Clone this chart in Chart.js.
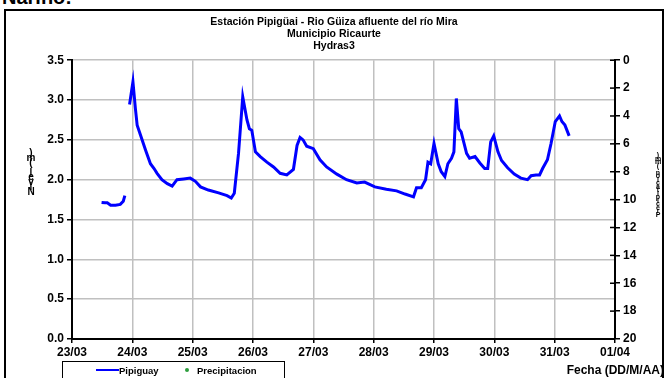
<!DOCTYPE html>
<html>
<head>
<meta charset="utf-8">
<script src="https://cdn.jsdelivr.net/npm/chart.js@4.4.0/dist/chart.umd.min.js"></script>
<style>
  body { margin: 0; width: 668px; height: 378px; overflow: hidden; background: #fff; position: relative; font-family: Arial, "Liberation Sans", sans-serif; }
  .encabezado { position: absolute; left: 2px; top: -13px; font-size: 20px; line-height: 20px; font-weight: bold; color: #000; }
  .marco { position: absolute; left: 4px; top: 9px; width: 656px; height: 400px; border: 2px solid #000; }
  .lienzo { position: absolute; left: 0; top: 0; width: 668px; height: 378px; }
  .leyenda { position: absolute; left: 62px; top: 361px; width: 221px; height: 16px; border: 1px solid #000; background: #fff; font-size: 9.5px; font-weight: bold; }
  .leyenda span { position: absolute; top: 3px; }
  .linea-azul { position: absolute; left: 33px; top: 7px; width: 23px; height: 2px; background: #0000ff; }
  .punto-verde { position: absolute; left: 122px; top: 6px; width: 4px; height: 4px; border-radius: 50%; background: #2e9e3e; }
  .eje-fecha { position: absolute; right: 4px; top: 363px; font-size: 12px; font-weight: bold; }
</style>
</head>
<body>
<div class="encabezado">Nariño:</div>
<div class="marco"></div>
<div class="lienzo"><canvas id="grafico" width="668" height="378"></canvas></div>
<div class="leyenda">
  <div class="linea-azul"></div><span style="left:56px">Pipiguay</span>
  <div class="punto-verde"></div><span style="left:134px">Precipitacion</span>
</div>
<div class="eje-fecha">Fecha (DD/M/AA)</div>
<script>
// dias desde el 23/03 a las 00:00
const fechas = ['23/03', '24/03', '25/03', '26/03', '27/03', '28/03', '29/03', '30/03', '31/03', '01/04'];
const tiempo = [
  0.49, 0.55, 0.585, 0.64, 0.72, 0.80, 0.85, 0.876, 0.91,
  0.954, 1.01, 1.05, 1.08, 1.135, 1.22, 1.30, 1.36, 1.41, 1.49, 1.58, 1.66, 1.74, 1.85, 1.96,
  2.045, 2.13, 2.26, 2.43, 2.57, 2.64, 2.69, 2.76, 2.83, 2.90, 2.94, 2.98,
  3.04, 3.12, 3.23, 3.34, 3.45, 3.56, 3.67, 3.73, 3.78, 3.83, 3.89,
  4.00, 4.11, 4.22, 4.39, 4.55, 4.72, 4.85,
  5.02, 5.21, 5.38, 5.52, 5.66, 5.71, 5.79, 5.86, 5.90, 5.945,
  6.00, 6.07, 6.12, 6.18, 6.23, 6.29, 6.33, 6.37, 6.41, 6.45, 6.54, 6.59, 6.68, 6.76, 6.84, 6.89, 6.94, 6.99,
  7.06, 7.12, 7.22, 7.33, 7.44, 7.55, 7.61, 7.69, 7.75, 7.80, 7.88, 7.94,
  8.01, 8.08, 8.12, 8.17, 8.24
];
// nivel del rio (m); null = sin registro
const nivel = [
  1.715, 1.71, 1.71, 1.68, 1.68, 1.69, 1.73, 1.80, null,
  2.945, 3.23, 2.90, 2.685, 2.56, 2.37, 2.20, 2.14, 2.08, 2.00, 1.95, 1.92, 2.00, 2.01, 2.02,
  1.98, 1.91, 1.87, 1.835, 1.80, 1.77, 1.83, 2.33, 3.04, 2.75, 2.64, 2.62,
  2.35, 2.29, 2.22, 2.16, 2.08, 2.06, 2.13, 2.43, 2.53, 2.50, 2.42,
  2.39, 2.25, 2.16, 2.07, 2.00, 1.96, 1.97,
  1.91, 1.88, 1.86, 1.82, 1.785, 1.90, 1.90, 2.00, 2.22, 2.20,
  2.455, 2.20, 2.10, 2.04, 2.20, 2.27, 2.35, 3.02, 2.64, 2.60, 2.33, 2.27, 2.29, 2.21, 2.14, 2.14, 2.475, 2.55,
  2.35, 2.24, 2.15, 2.07, 2.02, 2.00, 2.05, 2.06, 2.06, 2.14, 2.25, 2.455,
  2.73, 2.80, 2.73, 2.685, 2.55
];
const precipitacion = [];

const fuente = 'Arial, "Liberation Sans", sans-serif';

// rotulos de eje apilados letra por letra, de abajo hacia arriba
const rotulosApilados = {
  id: 'rotulosApilados',
  afterDraw(chart) {
    const ctx = chart.ctx;
    const dibujar = (texto, x, yBase, paso, size) => {
      ctx.save();
      ctx.font = 'bold ' + size + 'px ' + fuente;
      ctx.fillStyle = '#000';
      ctx.textAlign = 'center';
      ctx.textBaseline = 'middle';
      const letras = [...texto];
      letras.forEach((c, i) => ctx.fillText(c, x, yBase - i * paso));
      ctx.restore();
    };
    dibujar('Nivel (m)', 31, 192, 4.8, 10);
    dibujar('Precipitación (mm)', 658, 215, 3.5, 7);

    // marcas del eje derecho que cruzan hacia el area de la grafica
    const der = chart.scales.y2;
    ctx.save();
    ctx.strokeStyle = '#000';
    ctx.lineWidth = 1.5;
    der.ticks.forEach((t, i) => {
      const y = der.getPixelForTick(i);
      ctx.beginPath();
      ctx.moveTo(der.left - 5, y);
      ctx.lineTo(der.left, y);
      ctx.stroke();
    });
    ctx.restore();
  }
};

new Chart(document.getElementById('grafico'), {
  type: 'scatter',
  data: {
    datasets: [
      {
        label: 'Pipiguay',
        data: tiempo.map((t, i) => ({ x: t, y: nivel[i] })),
        showLine: true,
        spanGaps: false,
        borderColor: '#0000ff',
        borderWidth: 3,
        pointRadius: 0,
        tension: 0,
        yAxisID: 'y'
      },
      {
        label: 'Precipitacion',
        data: precipitacion,
        pointBackgroundColor: '#2e9e3e',
        pointBorderColor: '#2e9e3e',
        pointRadius: 2,
        yAxisID: 'y2'
      }
    ]
  },
  options: {
    responsive: false,
    animation: false,
    layout: { padding: 0 },
    plugins: {
      legend: { display: false },
      tooltip: { enabled: false },
      title: {
        display: true,
        text: ['Estación Pipigüai - Rio Güiza afluente del río Mira', 'Municipio Ricaurte', 'Hydras3'],
        color: '#000',
        font: { family: fuente, size: 10.5, weight: 'bold', lineHeight: 1.15 },
        padding: { top: 16, bottom: 8 }
      }
    },
    scales: {
      x: {
        type: 'linear',
        min: 0,
        max: 9,
        afterFit: s => { s.height = 39; },
        ticks: {
          stepSize: 1,
          color: '#000',
          padding: 2,
          maxRotation: 0,
          font: { family: fuente, size: 12, weight: 'bold' },
          callback: v => fechas[v]
        },
        grid: { color: '#c0c0c0', lineWidth: 1.5, tickColor: '#000', tickLength: 4 },
        border: { color: '#000', width: 2 }
      },
      y: {
        position: 'left',
        min: 0,
        max: 3.5,
        afterFit: s => { s.width = 72; },
        ticks: {
          stepSize: 0.5,
          color: '#000',
          padding: 3,
          font: { family: fuente, size: 12, weight: 'bold' },
          callback: v => v.toFixed(1)
        },
        grid: { color: '#c0c0c0', lineWidth: 1.5, tickColor: '#000', tickLength: 5 },
        border: { color: '#000', width: 2 }
      },
      y2: {
        position: 'right',
        min: 0,
        max: 20,
        reverse: true,
        afterFit: s => { s.width = 53; },
        ticks: {
          stepSize: 2,
          color: '#000',
          padding: 3,
          font: { family: fuente, size: 12, weight: 'bold' }
        },
        grid: { drawOnChartArea: false, tickColor: '#000', tickLength: 5, lineWidth: 1.5 },
        border: { color: '#000', width: 2 }
      }
    }
  },
  plugins: [rotulosApilados]
});
</script>
</body>
</html>
